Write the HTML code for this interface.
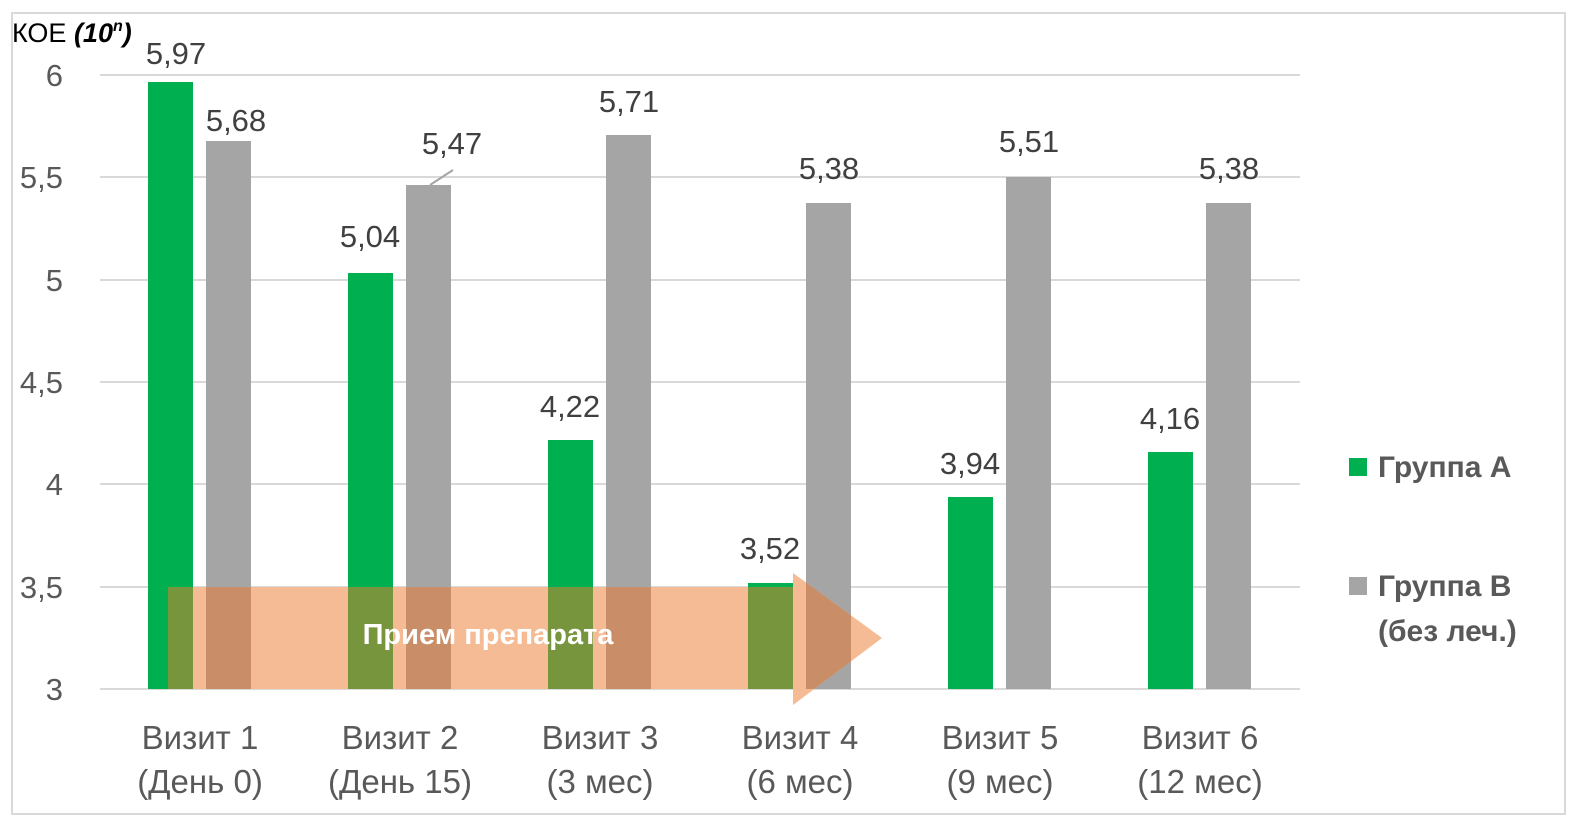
<!DOCTYPE html>
<html><head><meta charset="utf-8"><style>
html,body{margin:0;padding:0;background:#fff;}
svg{display:block;font-family:"Liberation Sans","DejaVu Sans",sans-serif;}
</style></head><body>
<svg width="1580" height="829" viewBox="0 0 1580 829" xmlns="http://www.w3.org/2000/svg">
<defs>
<clipPath id="arr"><polygon points="168,587 793,587 793,573 882,638 793,705 793,689 168,689"/></clipPath>
</defs>
<rect x="12" y="13" width="1553" height="801" fill="#fff" stroke="#d9d9d9" stroke-width="2"/>
<g stroke="#d9d9d9" stroke-width="2">
<line x1="100" y1="75" x2="1300" y2="75"/>
<line x1="100" y1="177" x2="1300" y2="177"/>
<line x1="100" y1="280" x2="1300" y2="280"/>
<line x1="100" y1="382" x2="1300" y2="382"/>
<line x1="100" y1="484" x2="1300" y2="484"/>
<line x1="100" y1="587" x2="1300" y2="587"/>
<line x1="100" y1="689" x2="1300" y2="689"/>
</g>
<g font-size="31" fill="#595959" text-anchor="end">
<text x="63" y="86">6</text><text x="63" y="188">5,5</text><text x="63" y="291">5</text>
<text x="63" y="393">4,5</text><text x="63" y="495">4</text><text x="63" y="598">3,5</text><text x="63" y="700">3</text>
</g>
<text x="12" y="42" font-size="27" fill="#000">КОЕ <tspan font-weight="bold" font-style="italic">(10<tspan font-size="16" dy="-11">n</tspan><tspan dy="11">)</tspan></tspan></text>
<g id="bars">
<rect x="148" y="82" width="45" height="607" fill="#00b050"/>
<rect x="206" y="141" width="45" height="548" fill="#a5a5a5"/>
<rect x="348" y="273" width="45" height="416" fill="#00b050"/>
<rect x="406" y="185" width="45" height="504" fill="#a5a5a5"/>
<rect x="548" y="440" width="45" height="249" fill="#00b050"/>
<rect x="606" y="135" width="45" height="554" fill="#a5a5a5"/>
<rect x="748" y="583" width="45" height="106" fill="#00b050"/>
<rect x="806" y="203" width="45" height="486" fill="#a5a5a5"/>
<rect x="948" y="497" width="45" height="192" fill="#00b050"/>
<rect x="1006" y="177" width="45" height="512" fill="#a5a5a5"/>
<rect x="1148" y="452" width="45" height="237" fill="#00b050"/>
<rect x="1206" y="203" width="45" height="486" fill="#a5a5a5"/>
</g>
<polygon points="168,587 793,587 793,573 882,638 793,705 793,689 168,689" fill="#f5bb94"/>
<g clip-path="url(#arr)">
<rect x="148" y="82" width="45" height="607" fill="#76953c"/>
<rect x="206" y="141" width="45" height="548" fill="#c98e68"/>
<rect x="348" y="273" width="45" height="416" fill="#76953c"/>
<rect x="406" y="185" width="45" height="504" fill="#c98e68"/>
<rect x="548" y="440" width="45" height="249" fill="#76953c"/>
<rect x="606" y="135" width="45" height="554" fill="#c98e68"/>
<rect x="748" y="587" width="45" height="102" fill="#76953c"/>
<rect x="806" y="203" width="45" height="486" fill="#c98e68"/>
</g>
<text x="488" y="644" font-size="29" font-weight="bold" fill="#fff" text-anchor="middle">Прием препарата</text>
<g font-size="31" fill="#404040" text-anchor="middle">
<text x="176" y="64">5,97</text><text x="236" y="131">5,68</text>
<text x="370" y="247">5,04</text><text x="452" y="154">5,47</text>
<text x="570" y="417">4,22</text><text x="629" y="112">5,71</text>
<text x="770" y="559">3,52</text><text x="829" y="179">5,38</text>
<text x="970" y="474">3,94</text><text x="1029" y="152">5,51</text>
<text x="1170" y="429">4,16</text><text x="1229" y="179">5,38</text>
</g>
<line x1="430" y1="185" x2="453" y2="170" stroke="#a5a5a5" stroke-width="2"/>
<g font-size="33" fill="#595959" text-anchor="middle">
<text x="200" y="749">Визит 1</text><text x="200" y="793">(День 0)</text>
<text x="400" y="749">Визит 2</text><text x="400" y="793">(День 15)</text>
<text x="600" y="749">Визит 3</text><text x="600" y="793">(3 мес)</text>
<text x="800" y="749">Визит 4</text><text x="800" y="793">(6 мес)</text>
<text x="1000" y="749">Визит 5</text><text x="1000" y="793">(9 мес)</text>
<text x="1200" y="749">Визит 6</text><text x="1200" y="793">(12 мес)</text>
</g>
<rect x="1349" y="458" width="18" height="18" fill="#00b050"/>
<rect x="1349" y="577" width="18" height="18" fill="#a5a5a5"/>
<g font-size="30" font-weight="bold" fill="#595959">
<text x="1378" y="477">Группа А</text>
<text x="1378" y="596">Группа В</text>
<text x="1378" y="641">(без леч.)</text>
</g>
</svg>
</body></html>
